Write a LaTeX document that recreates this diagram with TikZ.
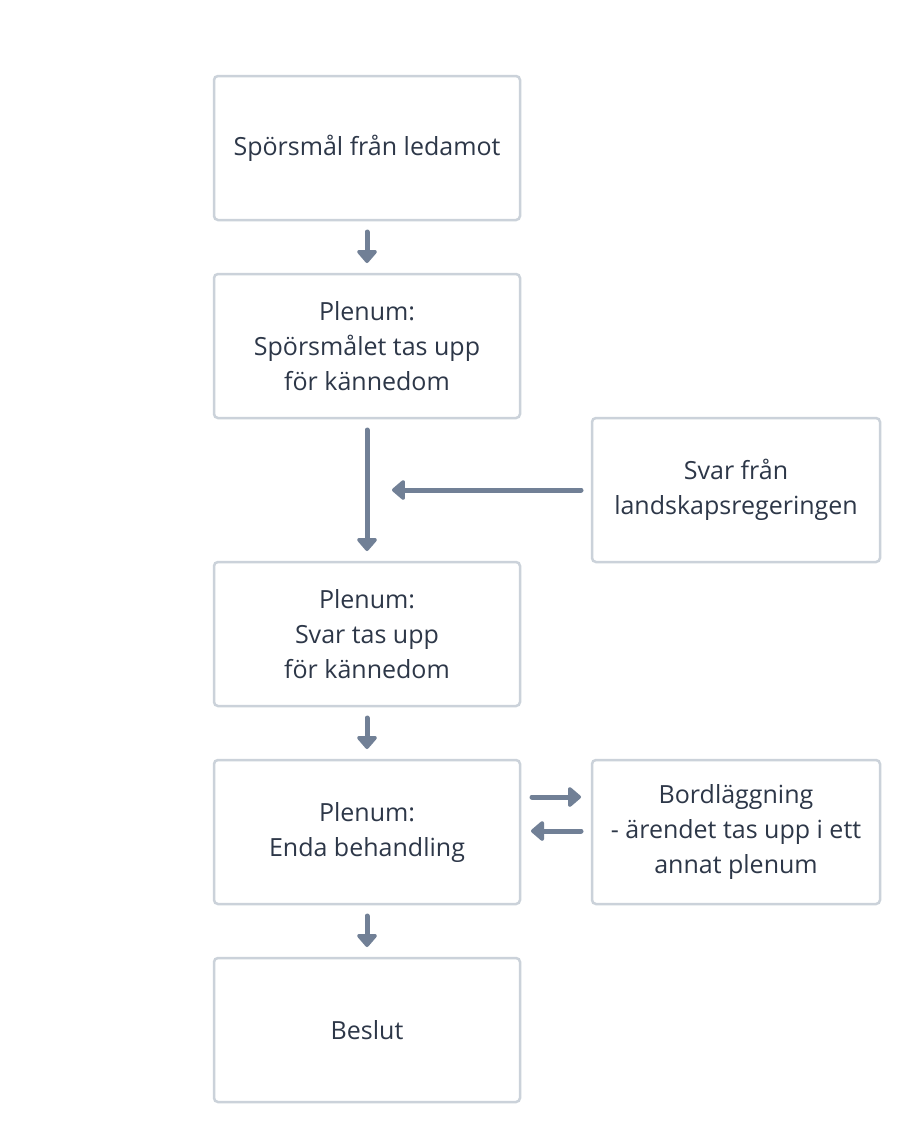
\documentclass[tikz,border=0pt]{standalone}
\usepackage{fontspec}
\setmainfont{Open Sans}
\usetikzlibrary{arrows.meta}
\definecolor{boxline}{HTML}{CBD2DA}
\definecolor{arrowc}{HTML}{718096}
\definecolor{txt}{HTML}{2D3748}
\tikzset{
  stepbox/.style={draw=boxline, line width=2.5pt, rounded corners=4pt, fill=white,
    minimum width=306pt, minimum height=144pt, align=center, text=txt,
    font=\fontsize{25}{35}\selectfont, inner sep=0pt},
  sidebox/.style={stepbox, minimum width=288pt},
  flow/.style={draw=arrowc, line width=5pt, line cap=round,
    -{Triangle[width=23pt,length=14pt,round]}},
}
\begin{document}
\begin{tikzpicture}[x=1pt,y=-1pt]
\useasboundingbox[fill=white] (0,0) rectangle (918,1140);
\node[stepbox] (b1) at (367,148) {Spörsmål från ledamot};
\node[stepbox] (b2) at (367,346) {Plenum:\\Spörsmålet tas upp\\för kännedom};
\node[stepbox] (b3) at (367,634) {Plenum:\\Svar tas upp\\för kännedom};
\node[stepbox] (b4) at (367,832) {Plenum:\\Enda behandling};
\node[stepbox] (b5) at (367,1030) {Beslut};
\node[sidebox] (s1) at (736,490) {Svar från\\landskapsregeringen};
\node[sidebox] (s2) at (736,832) {Bordläggning\\- ärendet tas upp i ett\\annat plenum};
\coordinate (a1s) at (367,232); \coordinate (a1e) at (367,263);
\coordinate (a2s) at (367,430); \coordinate (a2e) at (367,551);
\coordinate (a3s) at (581,490); \coordinate (a3e) at (392,490);
\coordinate (a4s) at (367,718); \coordinate (a4e) at (367,749);
\coordinate (a5s) at (532,797); \coordinate (a5e) at (581,797);
\coordinate (a6s) at (581,831); \coordinate (a6e) at (531,831);
\coordinate (a7s) at (367,916); \coordinate (a7e) at (367,947);
\draw[flow] (a1s) -- (a1e);
\draw[flow] (a2s) -- (a2e);
\draw[flow] (a3s) -- (a3e);
\draw[flow] (a4s) -- (a4e);
\draw[flow] (a5s) -- (a5e);
\draw[flow] (a6s) -- (a6e);
\draw[flow] (a7s) -- (a7e);
\end{tikzpicture}
\end{document}
